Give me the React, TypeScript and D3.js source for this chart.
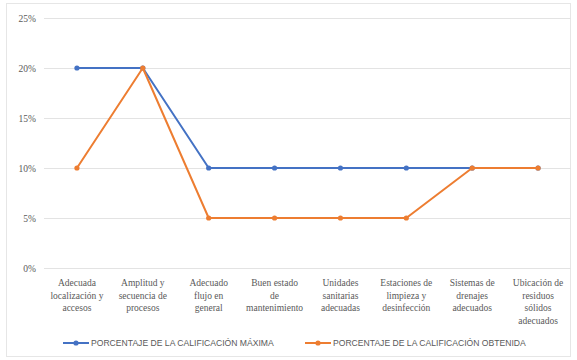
import { useEffect, useRef } from 'react'
import * as d3 from 'd3'

const categories = [
  'Adecuada localización y accesos',
  'Amplitud y secuencia de procesos',
  'Adecuado flujo en general',
  'Buen estado de mantenimiento',
  'Unidades sanitarias adecuadas',
  'Estaciones de limpieza y desinfección',
  'Sistemas de drenajes adecuados',
  'Ubicación de residuos sólidos adecuados',
]

// wrapped lines as they appear under the axis
const categoryLines = [
  ['Adecuada', 'localización y', 'accesos'],
  ['Amplitud y', 'secuencia de', 'procesos'],
  ['Adecuado', 'flujo en', 'general'],
  ['Buen estado', 'de', 'mantenimiento'],
  ['Unidades', 'sanitarias', 'adecuadas'],
  ['Estaciones de', 'limpieza y', 'desinfección'],
  ['Sistemas de', 'drenajes', 'adecuados'],
  ['Ubicación de', 'residuos', 'sólidos', 'adecuados'],
]

const maxima = [0.2, 0.2, 0.1, 0.1, 0.1, 0.1, 0.1, 0.1]
const obtenida = [0.1, 0.2, 0.05, 0.05, 0.05, 0.05, 0.1, 0.1]

const yTicks = [0, 0.05, 0.1, 0.15, 0.2, 0.25]

const seriesNames = ['PORCENTAJE DE LA CALIFICACIÓN MÁXIMA', 'PORCENTAJE DE LA CALIFICACIÓN OBTENIDA']
const colors = ['#4472C4', '#ED7D31']

const serif = "'Times New Roman', Times, 'Liberation Serif', 'DejaVu Serif', 'Noto Serif', serif"
const sans = "'Liberation Sans', Arial, sans-serif"

export default function App() {
  const svgRef = useRef<SVGSVGElement>(null)

  useEffect(() => {
    if (!svgRef.current) return
    const svg = d3.select(svgRef.current)
    svg.selectAll('*').remove()

    const width = 577
    const height = 360
    const margin = { top: 18, right: 6, bottom: 92, left: 44 }

    svg.append('rect')
      .attr('x', 6.5).attr('y', 3.5)
      .attr('width', width - 13).attr('height', height - 7)
      .attr('fill', 'white')
      .attr('stroke', '#e6e6e6')

    const x = d3.scalePoint<string>()
      .domain(categories)
      .range([margin.left, width - margin.right])
      .padding(0.5)

    const y = d3.scaleLinear()
      .domain([0, 0.25])
      .range([height - margin.bottom, margin.top])

    // gridlines + y labels
    const yAxis = svg.append('g')
      .attr('transform', `translate(${margin.left},0)`)
      .call(d3.axisLeft(y)
        .tickValues(yTicks)
        .tickSize(-(width - margin.left - margin.right))
        .tickPadding(8)
        .tickFormat(d => d3.format('.0%')(d as number)))
    yAxis.select('.domain').remove()
    yAxis.selectAll('line').attr('stroke', '#e3e3e3').attr('stroke-width', 1)
    yAxis.attr('font-family', null).attr('font-size', null)
    yAxis.selectAll('text')
      .attr('fill', '#595959')
      .style('font-family', serif)
      .style('font-size', '9.5px')

    // category labels
    const xg = svg.append('g')
    categories.forEach((c, i) => {
      const t = xg.append('text')
        .attr('x', x(c)!)
        .attr('y', height - margin.bottom + 18)
        .attr('text-anchor', 'middle')
        .attr('fill', '#595959')
        .style('font-family', serif)
        .style('font-size', '9.5px')
      categoryLines[i].forEach((ln, j) => {
        t.append('tspan').attr('x', x(c)!).attr('dy', j === 0 ? 0 : 12.5).text(ln)
      })
    })

    const line = d3.line<number>()
      .x((_, i) => x(categories[i])!)
      .y(d => y(d))

    ;[maxima, obtenida].forEach((vals, s) => {
      svg.append('path')
        .datum(vals)
        .attr('fill', 'none')
        .attr('stroke', colors[s])
        .attr('stroke-width', 2)
        .attr('stroke-linejoin', 'round')
        .attr('d', line)
      svg.selectAll(`.dot${s}`)
        .data(vals)
        .enter()
        .append('circle')
        .attr('cx', (_, i) => x(categories[i])!)
        .attr('cy', d => y(d))
        .attr('r', 2.6)
        .attr('fill', colors[s])
    })

    // legend
    const legendX = [63, 305]
    const ly = 343
    seriesNames.forEach((name, s) => {
      const g = svg.append('g').attr('transform', `translate(${legendX[s]},${ly})`)
      g.append('line').attr('x1', 0).attr('x2', 26).attr('y1', 0).attr('y2', 0)
        .attr('stroke', colors[s]).attr('stroke-width', 2)
      g.append('circle').attr('cx', 13).attr('cy', 0).attr('r', 2.6).attr('fill', colors[s])
      g.append('text')
        .attr('x', 28)
        .attr('y', 3)
        .attr('fill', '#595959')
        .style('font-family', sans)
        .style('font-size', '8.6px')
        .text(name)
    })
  }, [])

  return (
    <svg ref={svgRef} width={577} height={360}
      style={{ position: 'absolute', left: 0, top: 0, background: 'white' }} />
  )
}
